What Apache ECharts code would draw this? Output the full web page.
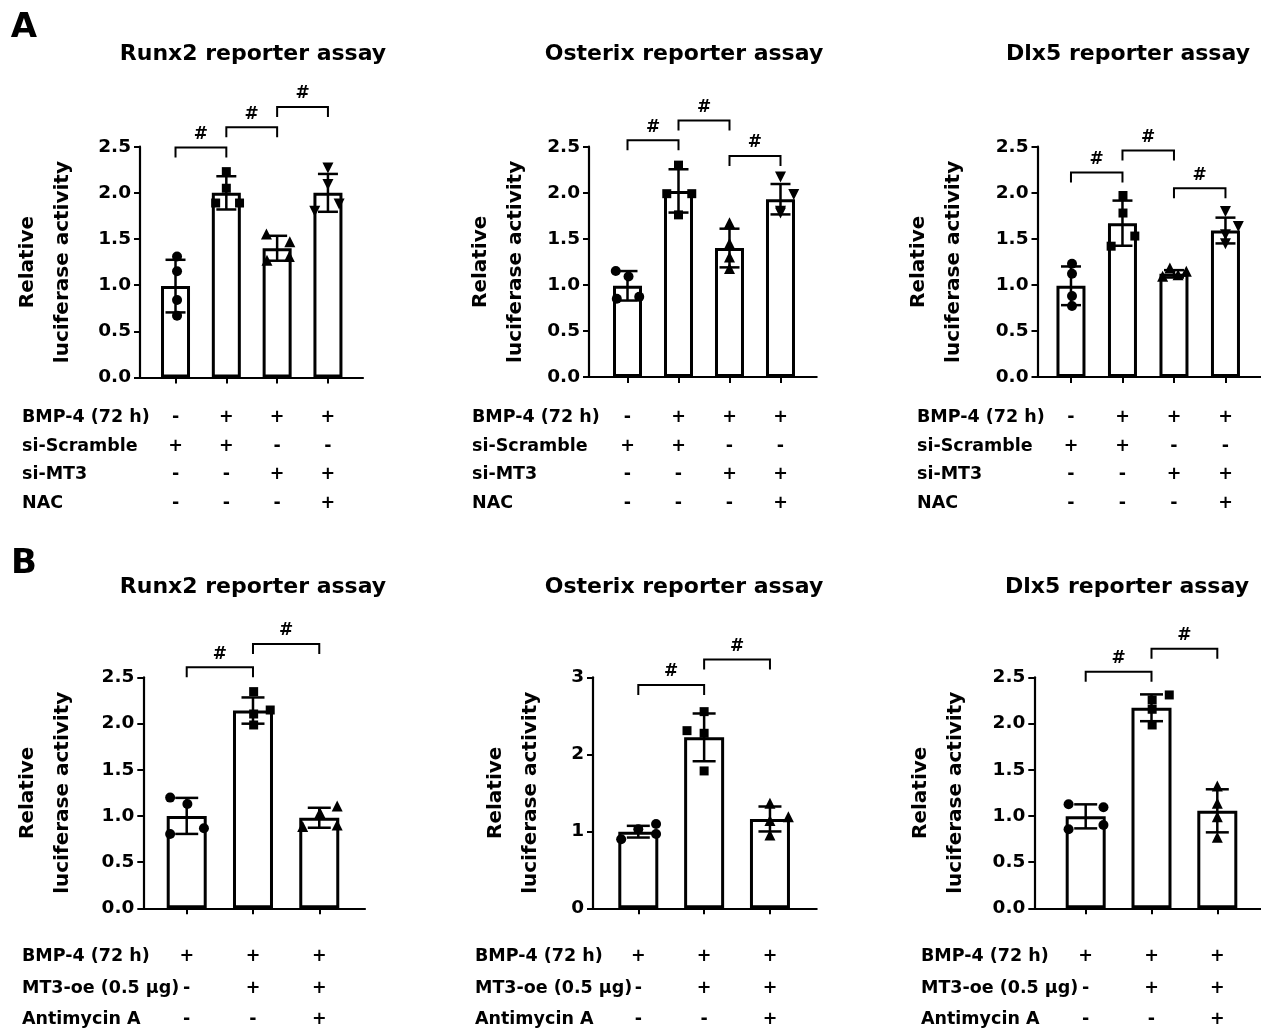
<!DOCTYPE html>
<html><head><meta charset="utf-8">
<script src="https://cdn.jsdelivr.net/npm/echarts@6/dist/echarts.min.js"></script>
<style>html,body{margin:0;padding:0;background:#fff}#c{width:1261px;height:1032px}</style>
</head><body><div id="c"></div>
<script>
// ---------------- DATA ----------------
const panelLetters = ['A', 'B'];
const panelTitles = ['Runx2 reporter assay', 'Osterix reporter assay', 'Dlx5 reporter assay'];
const yAxisName = 'Relative\nluciferase activity';

const rowNamesA = ['BMP-4 (72 h)', 'si-Scramble', 'si-MT3', 'NAC'];
const signsA = [
  ['-', '+', '+', '+'],
  ['+', '+', '-', '-'],
  ['-', '-', '+', '+'],
  ['-', '-', '-', '+']
];
const rowNamesB = ['BMP-4 (72 h)', 'MT3-oe (0.5 µg)', 'Antimycin A'];
const signsB = [
  ['+', '+', '+'],
  ['-', '+', '+'],
  ['-', '-', '+']
];

const yMaxA = 2.5, yStepA = 0.5;
const yMaxB = [2.5, 3, 2.5], yStepB = [0.5, 1, 0.5];

// A – Runx2
const runx2A_mean = [0.99, 2.00, 1.40, 2.00];
const runx2A_sd   = [0.285, 0.18, 0.135, 0.205];
const runx2A_pts  = [[1.31, 1.15, 0.84, 0.67], [2.23, 2.05, 1.89, 1.89], [1.555, 1.47, 1.27, 1.31], [2.27, 2.09, 1.80, 1.88]];
const runx2A_jit  = [[0.03, 0.03, 0.03, 0.03], [0, 0, -0.21, 0.26], [-0.21, 0.25, -0.2, 0.24], [0, 0, -0.26, 0.22]];
const runx2A_sig  = [[0, 1, 2.49], [1, 2, 2.71], [2, 3, 2.93]];
// A – Osterix
const osxA_mean = [0.99, 2.02, 1.40, 1.93];
const osxA_sd   = [0.16, 0.235, 0.21, 0.165];
const osxA_pts  = [[1.15, 1.09, 0.85, 0.87], [2.30, 1.99, 1.99, 1.76], [1.674, 1.449, 1.304, 1.178], [2.17, 1.98, 1.80, 1.78]];
const osxA_jit  = [[-0.23, 0.02, -0.21, 0.23], [0, -0.23, 0.26, 0], [0, 0, 0, 0], [0, 0.26, 0, 0]];
const osxA_sig  = [[0, 1, 2.57], [1, 2, 2.785], [2, 3, 2.40]];
// A – Dlx5
const dlxA_mean = [0.99, 1.67, 1.12, 1.59];
const dlxA_sd   = [0.21, 0.245, 0.04, 0.14];
const dlxA_pts  = [[1.23, 1.12, 0.88, 0.77], [1.97, 1.78, 1.42, 1.53], [1.093, 1.184, 1.111, 1.147], [1.797, 1.634, 1.544, 1.447]];
const dlxA_jit  = [[0.02, 0.02, 0.02, 0.02], [0.01, 0.01, -0.22, 0.24], [-0.22, -0.08, 0.08, 0.24], [0, 0.25, 0, 0]];
const dlxA_sig  = [[0, 1, 2.22], [1, 2, 2.46], [2, 3, 2.05]];

// B – Runx2
const runx2B_mean = [1.00, 2.14, 0.98];
const runx2B_sd   = [0.195, 0.142, 0.108];
const runx2B_pts  = [[1.198, 1.129, 0.804, 0.866], [2.345, 2.146, 2.103, 1.984], [1.107, 1.035, 0.884, 0.902]];
const runx2B_jit  = [[-0.25, 0.01, -0.25, 0.26], [0.01, 0.26, 0.01, 0.01], [0.27, 0.01, -0.25, 0.27]];
const runx2B_sig  = [[0, 1, 2.61], [1, 2, 2.86]];
// B – Osterix
const osxB_mean = [0.995, 2.22, 1.16];
const osxB_sd   = [0.076, 0.31, 0.162];
const osxB_pts  = [[0.896, 1.026, 1.095, 0.965], [2.554, 2.307, 2.273, 1.784], [1.364, 1.19, 1.139, 0.952]];
const osxB_jit  = [[-0.26, 0, 0.27, 0.27], [0, -0.26, 0, 0], [0, 0.28, 0, 0]];
const osxB_sig  = [[0, 1, 2.90], [1, 2, 3.23]];
// B – Dlx5
const dlxB_mean = [0.995, 2.17, 1.055];
const dlxB_sd   = [0.13, 0.145, 0.233];
const dlxB_pts  = [[1.126, 1.093, 0.855, 0.902], [2.309, 2.255, 2.154, 1.984], [1.324, 1.136, 0.992, 0.768]];
const dlxB_jit  = [[-0.26, 0.27, -0.26, 0.27], [0.27, 0.01, 0.01, 0.01], [0, 0, 0, 0]];
const dlxB_sig  = [[0, 1, 2.56], [1, 2, 2.81]];

// ---------------- LAYOUT / STYLE ----------------
const FONT = 'DejaVu Sans';
const symbolsByGroup = [
  {symbol: 'circle', rotate: 0, size: 10},
  {symbol: 'rect', rotate: 0, size: 9},
  {symbol: 'triangle', rotate: 0, size: 11},
  {symbol: 'triangle', rotate: 180, size: 11}
];
const panels = [
  {title: panelTitles[0], mean: runx2A_mean, sd: runx2A_sd, pts: runx2A_pts, jit: runx2A_jit, sig: runx2A_sig,
   rows: rowNamesA, signs: signsA, ymax: yMaxA, ystep: yStepA,
   L: 140, R: 363, T: 146.7, B: 377.5, xmin: -0.699, xmax: 3.69, nameGap: 60, titleX: 253, titleY: 54, rowX: 22, bw: 29, cap: 20},
  {title: panelTitles[1], mean: osxA_mean, sd: osxA_sd, pts: osxA_pts, jit: osxA_jit, sig: osxA_sig,
   rows: rowNamesA, signs: signsA, ymax: yMaxA, ystep: yStepA,
   L: 589, R: 816.7, T: 146.7, B: 377, xmin: -0.755, xmax: 3.71, nameGap: 56, titleX: 684, titleY: 54, rowX: 472, bw: 29, cap: 20},
  {title: panelTitles[2], mean: dlxA_mean, sd: dlxA_sd, pts: dlxA_pts, jit: dlxA_jit, sig: dlxA_sig,
   rows: rowNamesA, signs: signsA, ymax: yMaxA, ystep: yStepA,
   L: 1037.5, R: 1261, T: 146.7, B: 377, xmin: -0.65, xmax: 3.69, nameGap: 66, titleX: 1128, titleY: 54, rowX: 917, bw: 29, cap: 20},
  {title: panelTitles[0], mean: runx2B_mean, sd: runx2B_sd, pts: runx2B_pts, jit: runx2B_jit, sig: runx2B_sig,
   rows: rowNamesB, signs: signsB, ymax: yMaxB[0], ystep: yStepB[0],
   L: 143.3, R: 365, T: 677.3, B: 908.3, xmin: -0.655, xmax: 2.69, nameGap: 63, titleX: 253, titleY: 587, rowX: 22, bw: 40, cap: 23},
  {title: panelTitles[1], mean: osxB_mean, sd: osxB_sd, pts: osxB_pts, jit: osxB_jit, sig: osxB_sig,
   rows: rowNamesB, signs: signsB, ymax: yMaxB[1], ystep: yStepB[1],
   L: 593, R: 816.7, T: 677.3, B: 908.3, xmin: -0.688, xmax: 2.71, nameGap: 45, titleX: 684, titleY: 587, rowX: 475, bw: 40, cap: 23},
  {title: panelTitles[2], mean: dlxB_mean, sd: dlxB_sd, pts: dlxB_pts, jit: dlxB_jit, sig: dlxB_sig,
   rows: rowNamesB, signs: signsB, ymax: yMaxB[2], ystep: yStepB[2],
   L: 1034.3, R: 1261, T: 677.3, B: 908.3, xmin: -0.781, xmax: 2.664, nameGap: 61, titleX: 1127, titleY: 587, rowX: 921, bw: 40, cap: 23}
];

const black = '#000';
const titles = [
  {text: panelLetters[0], left: 24, top: 28, textAlign: 'center', textVerticalAlign: 'middle', padding: 0,
   textStyle: {fontFamily: FONT, fontWeight: 'bold', fontSize: 34, color: black}},
  {text: panelLetters[1], left: 24, top: 564, textAlign: 'center', textVerticalAlign: 'middle', padding: 0,
   textStyle: {fontFamily: FONT, fontWeight: 'bold', fontSize: 34, color: black}}
];
const grids = [], xAxes = [], yAxes = [], series = [];

panels.forEach((p, k) => {
  const n = p.mean.length;
  const idx = p.mean.map((_, i) => i);
  const isA = n === 4;
  const lh = isA ? 28.7 : 31.5;
  const firstRowY = isA ? 417.3 : 956.7;

  titles.push({text: p.title, left: p.titleX, top: p.titleY, textAlign: 'center', textVerticalAlign: 'middle', padding: 0,
    textStyle: {fontFamily: FONT, fontWeight: 'bold', fontSize: 22, color: black}});
  titles.push({text: p.rows.join('\n'), left: p.rowX, top: firstRowY - lh / 2, padding: 0,
    textStyle: {fontFamily: FONT, fontWeight: 'bold', fontSize: 17.5, lineHeight: lh, color: black}});

  grids.push({left: p.L, top: p.T, width: p.R - p.L, height: p.B - p.T, containLabel: false, outerBoundsMode: 'none'});

  xAxes.push({
    type: 'value', gridIndex: k, min: p.xmin, max: p.xmax,
    axisLine: {show: true, onZero: false, lineStyle: {color: black, width: 2.2}},
    axisTick: {show: true, customValues: idx, length: 6, lineStyle: {color: black, width: 2}},
    axisLabel: {show: true, customValues: idx, margin: firstRowY - p.B - lh / 2,
      formatter: v => p.signs.map(r => r[Math.round(v)]).join('\n'),
      fontFamily: FONT, fontWeight: 'bold', fontSize: 17.5, lineHeight: lh, color: black},
    splitLine: {show: false}
  });
  yAxes.push({
    type: 'value', gridIndex: k, min: 0, max: p.ymax, interval: p.ystep,
    axisLine: {show: true, onZero: false, lineStyle: {color: black, width: 2.2}},
    axisTick: {show: true, length: 6, lineStyle: {color: black, width: 2}},
    axisLabel: {margin: 9, formatter: v => p.ystep < 1 ? v.toFixed(1) : String(v),
      fontFamily: FONT, fontWeight: 'bold', fontSize: 18.5, color: black},
    splitLine: {show: false},
    name: yAxisName, nameLocation: 'middle', nameGap: p.nameGap, nameRotate: 90,
    nameTextStyle: {fontFamily: FONT, fontWeight: 'bold', fontSize: 20, lineHeight: 35, color: black, align: 'center'}
  });

  // bars
  series.push({
    type: 'bar', xAxisIndex: k, yAxisIndex: k, barWidth: p.bw, z: 2,
    itemStyle: {color: '#fff', borderColor: black, borderWidth: 3},
    data: p.mean.map((m, i) => [i, m])
  });
  // error bars (mean ± SD)
  series.push({
    type: 'custom', xAxisIndex: k, yAxisIndex: k, z: 4, clip: false,
    data: p.mean.map((m, i) => [i, m - p.sd[i], m + p.sd[i]]),
    renderItem: (params, api) => {
      const x = api.value(0);
      const top = api.coord([x, api.value(2)]);
      const bot = api.coord([x, api.value(1)]);
      const h = p.cap / 2;
      const st = {stroke: black, lineWidth: 2.5};
      return {type: 'group', children: [
        {type: 'line', shape: {x1: top[0], y1: top[1], x2: bot[0], y2: bot[1]}, style: st},
        {type: 'line', shape: {x1: top[0] - h, y1: top[1], x2: top[0] + h, y2: top[1]}, style: st},
        {type: 'line', shape: {x1: bot[0] - h, y1: bot[1], x2: bot[0] + h, y2: bot[1]}, style: st}
      ]};
    }
  });
  // individual points
  const ptData = [];
  p.pts.forEach((arr, i) => arr.forEach((v, j) => {
    const s = symbolsByGroup[i];
    ptData.push({value: [i + p.jit[i][j], v], symbol: s.symbol, symbolRotate: s.rotate, symbolSize: s.size});
  }));
  series.push({
    type: 'scatter', xAxisIndex: k, yAxisIndex: k, z: 5, clip: false,
    itemStyle: {color: black, opacity: 1},
    data: ptData
  });
  // significance brackets
  series.push({
    type: 'custom', xAxisIndex: k, yAxisIndex: k, z: 6, clip: false,
    data: p.sig,
    renderItem: (params, api) => {
      const a = api.coord([api.value(0), api.value(2)]);
      const b = api.coord([api.value(1), api.value(2)]);
      const drop = 10;
      return {type: 'group', children: [
        {type: 'polyline', shape: {points: [[a[0], a[1] + drop], [a[0], a[1]], [b[0], b[1]], [b[0], b[1] + drop]]},
         style: {stroke: black, lineWidth: 2, fill: null}},
        {type: 'text', x: (a[0] + b[0]) / 2, y: a[1] - 13,
         style: {text: '#', fontFamily: FONT, fontWeight: 'bold', fontSize: 17, fill: black, align: 'center', verticalAlign: 'middle'}}
      ]};
    }
  });
});

const chart = echarts.init(document.getElementById('c'), null, {renderer: 'canvas'});
chart.setOption({
  animation: false,
  backgroundColor: '#fff',
  title: titles,
  grid: grids,
  xAxis: xAxes,
  yAxis: yAxes,
  series: series
});
</script>
</body></html>
